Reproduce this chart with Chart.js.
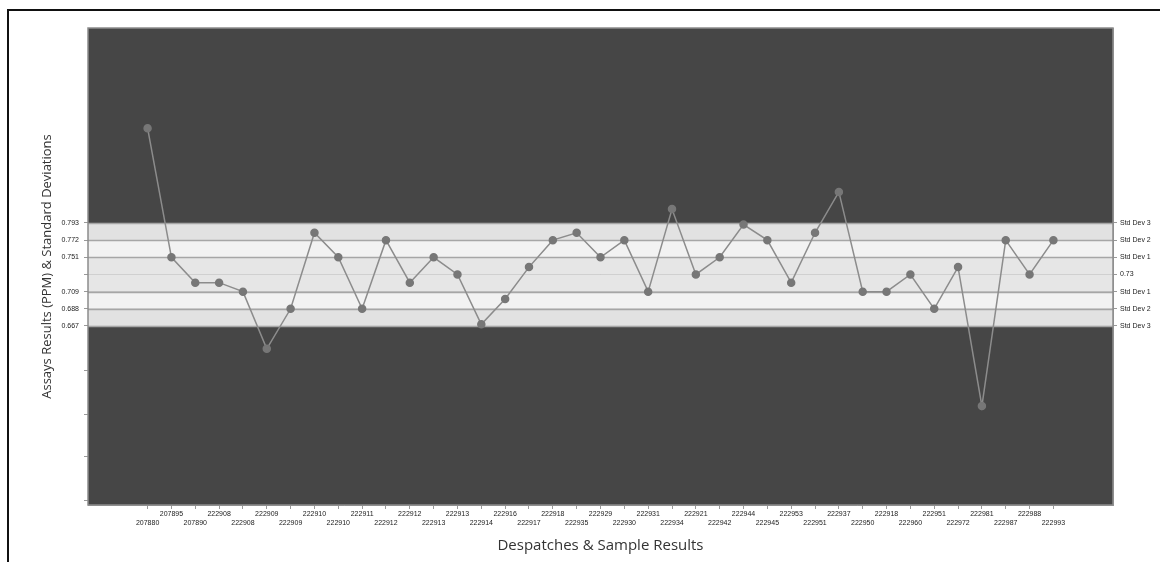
<!DOCTYPE html>
<html>
<head>
<meta charset="utf-8">
<script src="https://cdn.jsdelivr.net/npm/chart.js@4.4.1/dist/chart.umd.min.js"></script>
<style>
  body { margin: 0; background: #fff; }
  #wrap { position: relative; width: 1160px; height: 562px; overflow: hidden; }
  #frame { position: absolute; left: 7px; top: 9px; right: -4px; bottom: -4px; border-top: 2px solid #111; border-left: 2px solid #111; }
  canvas { position: absolute; left: 0; top: 0; }
</style>
</head>
<body>
<div id="wrap">
  <div id="frame"></div>
  <canvas id="assayChart" width="1160" height="562"></canvas>
</div>
<script>
// Despatch / sample ids along the x axis
const sampleIds = [
    "207880", "207895", "207890", "222908", "222908", "222909", "222909", "222910", "222910", "222911",
    "222912", "222912", "222913", "222913", "222914", "222916", "222917", "222918", "222935", "222929",
    "222930", "222931", "222934", "222921", "222942", "222944", "222945", "222953", "222951", "222937",
    "222950", "222918", "222960", "222951", "222972", "222981", "222987", "222988", "222993"
];

// Assay results (PPM)
const assayValues = [
    0.909, 0.751, 0.720, 0.720, 0.709, 0.639, 0.688, 0.781, 0.751, 0.688,
    0.772, 0.720, 0.751, 0.730, 0.669, 0.700, 0.739, 0.772, 0.781, 0.751,
    0.772, 0.709, 0.810, 0.730, 0.751, 0.791, 0.772, 0.720, 0.781, 0.831,
    0.709, 0.709, 0.730, 0.688, 0.739, 0.569, 0.772, 0.730, 0.772
];

// Standard deviation bands (mean +/- 1, 2, 3 sd)
const bandValues = [0.793, 0.772, 0.751, 0.73, 0.709, 0.688, 0.667];
const leftBandLabels = ["0.793", "0.772", "0.751", "", "0.709", "0.688", "0.667"];
const rightBandLabels = ["Std Dev 3", "Std Dev 2", "Std Dev 1", "0.73", "Std Dev 1", "Std Dev 2", "Std Dev 3"];
const extraLeftTicks = [0.613, 0.559, 0.507, 0.454];

const yMin = 0.448;
const yMax = 1.0315;

const tickFont = { family: "Liberation Sans", size: 7 };

// background + shaded bands behind the line
const bandPlugin = {
    id: "bands",
    beforeDatasetsDraw(chart) {
        const { ctx, chartArea, scales } = chart;
        const y = scales.y;
        ctx.save();
        ctx.fillStyle = "#464646";
        ctx.fillRect(chartArea.left, chartArea.top, chartArea.width, chartArea.height);

        const fills = ["#e2e2e2", "#f2f2f2", "#e6e6e6", "#e6e6e6", "#f2f2f2", "#e2e2e2"];
        for (let i = 0; i < bandValues.length - 1; i++) {
            const top = y.getPixelForValue(bandValues[i]);
            const bottom = y.getPixelForValue(bandValues[i + 1]);
            ctx.fillStyle = fills[i];
            ctx.fillRect(chartArea.left, top, chartArea.width, bottom - top);
        }
        bandValues.forEach(function (v, i) {
            const py = Math.round(y.getPixelForValue(v)) + 0.5;
            ctx.beginPath();
            ctx.strokeStyle = (i === 3) ? "#d0d0d0" : "#a6a6a6";
            ctx.lineWidth = (i === 3) ? 1 : 1.5;
            ctx.moveTo(chartArea.left, py);
            ctx.lineTo(chartArea.right, py);
            ctx.stroke();
        });
        ctx.strokeStyle = "#8c8c8c";
        ctx.lineWidth = 1.5;
        ctx.strokeRect(chartArea.left, chartArea.top, chartArea.width, chartArea.height);
        ctx.restore();
    }
};

const ctx = document.getElementById("assayChart").getContext("2d");

new Chart(ctx, {
    type: "line",
    data: {
        datasets: [{
            label: "Assays Results",
            data: sampleIds.map(function (id, i) { return { x: i, y: assayValues[i] }; }),
            borderColor: "#8c8c8c",
            borderWidth: 1.5,
            pointRadius: 3.5,
            pointBackgroundColor: "#777777",
            pointBorderColor: "#777777",
            tension: 0
        }]
    },
    options: {
        responsive: false,
        animation: false,
        layout: { padding: { top: 28, left: 0, right: 0, bottom: 0 } },
        plugins: {
            legend: { display: false },
            tooltip: { enabled: false }
        },
        scales: {
            x: {
                type: "linear",
                position: "bottom",
                min: -2.5,
                max: sampleIds.length + 1.5,
                afterBuildTicks: function (scale) {
                    scale.ticks = sampleIds.map(function (id, i) { return { value: i }; });
                },
                afterFit: function (scale) { scale.height = 57; },
                ticks: {
                    autoSkip: false,
                    maxRotation: 0,
                    minRotation: 0,
                    padding: 1,
                    color: "#222",
                    font: tickFont,
                    callback: function (value) {
                        const id = sampleIds[value];
                        if (id === undefined) return "";
                        return (value % 2 === 0) ? ["", id] : [id, ""];
                    }
                },
                grid: { drawOnChartArea: false, tickLength: 4, color: "#999" },
                border: { color: "#999" },
                title: {
                    display: true,
                    text: "Despatches & Sample Results",
                    color: "#333",
                    font: { family: "Open Sans", size: 15 },
                    padding: { top: 0, bottom: 7 }
                }
            },
            y: {
                position: "left",
                min: yMin,
                max: yMax,
                afterBuildTicks: function (scale) {
                    scale.ticks = bandValues.concat(extraLeftTicks).map(function (v) { return { value: v }; });
                },
                afterFit: function (scale) { scale.width = 88; },
                ticks: {
                    padding: 5,
                    color: "#222",
                    font: tickFont,
                    callback: function (value) {
                        const idx = bandValues.indexOf(value);
                        return idx >= 0 ? leftBandLabels[idx] : "";
                    }
                },
                grid: { drawOnChartArea: false, tickLength: 4, color: "#999" },
                border: { color: "#999" },
                title: {
                    display: true,
                    text: "Assays Results (PPM) & Standard Deviations",
                    color: "#333",
                    font: { family: "Open Sans", size: 13 },
                    padding: { top: 39, bottom: 0 }
                }
            },
            yRight: {
                position: "right",
                min: yMin,
                max: yMax,
                afterBuildTicks: function (scale) {
                    scale.ticks = bandValues.map(function (v) { return { value: v }; });
                },
                afterFit: function (scale) { scale.width = 47; },
                ticks: {
                    padding: 3,
                    color: "#222",
                    font: tickFont,
                    callback: function (value) {
                        const idx = bandValues.indexOf(value);
                        return idx >= 0 ? rightBandLabels[idx] : "";
                    }
                },
                grid: { drawOnChartArea: false, tickLength: 4, color: "#999" },
                border: { color: "#999" }
            }
        }
    },
    plugins: [bandPlugin]
});
</script>
</body>
</html>
